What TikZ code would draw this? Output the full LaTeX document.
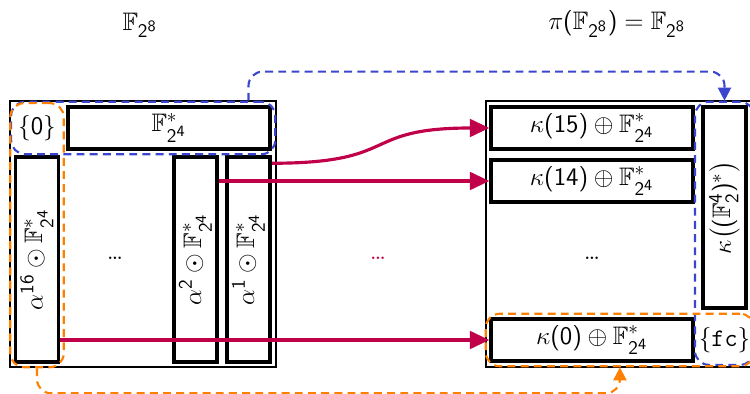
\documentclass[tikz,border=0pt]{standalone}
\usepackage{amsfonts,amssymb}
\usepackage{amsmath}
\usepackage{graphicx}
\usepackage{tikz}
\usetikzlibrary{arrows.meta,positioning,calc,fit}
\SetSymbolFont{operators}{normal}{OT1}{cmss}{m}{n}
\DeclareMathSizes{14.4}{14.4}{11}{9}
\definecolor{maproute}{RGB}{192,0,72}
\definecolor{groupblue}{RGB}{58,70,205}
\definecolor{grouporange}{RGB}{255,128,0}
\tikzset{
  >=Stealth,
  every node/.append style={font=\Large},
}
\tikzset{
  cell/.style={draw, line width=2pt, minimum width=4.04cm, minimum height=0.84cm, inner sep=0pt},
  column/.style={draw, line width=2pt, minimum width=0.86cm, minimum height=4.1cm, inner sep=0pt},
  corner/.style={minimum width=0.88cm, minimum height=0.84cm, inner sep=0pt},
  field/.style={draw, line width=1.2pt, minimum width=5.32cm, minimum height=5.32cm},
  group/.style={draw, line width=1.2pt, dash pattern=on 4.5pt off 3pt, rounded corners=8pt, inner sep=2pt},
  map/.style={-{Triangle[length=11pt,width=10pt]}, maproute, line width=1.8pt},
  link/.style={line width=1.2pt, dash pattern=on 4.5pt off 3pt, rounded corners=8pt, -{Triangle[length=7.5pt,width=7.5pt]}}
}
\begin{document}
\begin{tikzpicture}[x=0.02cm, y=-0.02cm]
\useasboundingbox (0,0) rectangle (750,394);
% titles
\node (srcname) at (140,25) {$\mathbb{F}_{2^8}$};
\node (dstname) at (617,24) {$\pi(\mathbb{F}_{2^8}) = \mathbb{F}_{2^8}$};

% source field
\node[field] (src) at (143,234) {};
\node[corner] (zero) at (37,128) {$\{0\}$};
\node[cell] (fstar) at (169,128) {$\mathbb{F}^*_{2^4}$};
\node[column] (a16) at (37,259.5) {\rotatebox{90}{$\alpha^{16}\odot\mathbb{F}^*_{2^4}$}};
\node[column] (a2) at (195.5,259.5) {\rotatebox{90}{$\alpha^{2}\odot\mathbb{F}^*_{2^4}$}};
\node[column] (a1) at (248.5,259.5) {\rotatebox{90}{$\alpha^{1}\odot\mathbb{F}^*_{2^4}$}};
\node (srcdots) at (115,258) {\ldots};

% image field
\node[field] (dst) at (619,234) {};
\node[cell] (k15) at (592,128) {$\kappa(15)\oplus\mathbb{F}^*_{2^4}$};
\node[cell] (k14) at (592,181) {$\kappa(14)\oplus\mathbb{F}^*_{2^4}$};
\node[cell] (k0) at (592,340) {$\kappa(0)\oplus\mathbb{F}^*_{2^4}$};
\node[column, minimum height=4.02cm] (kv) at (724.5,207.5) {\rotatebox{90}{$\kappa\bigl((\mathbb{F}_2^4)^*\bigr)$}};
\node[corner, minimum width=0.86cm] (fc) at (724.5,340) {$\{\texttt{fc}\}$};
\node (dstdots) at (592,258) {\ldots};
\node[text=maproute] (mapdots) at (378,258) {\ldots};

% dashed groups
\node[group, groupblue, fit=(zero)(fstar)] (blueL) {};
\node[group, grouporange, fit=(zero)(a16)] (orangeL) {};
\node[group, groupblue, fit=(kv)(fc)] (blueR) {};
\node[group, grouporange, fit=(k0)(fc)] (orangeR) {};

% maps
\draw[map] ($(a1.north east)+(0,8)$) .. controls +(130,0) and +(-130,0) .. (k15.west);
\draw[map] (a2.east |- k14.west) -- (k14.west);
\draw[map] (a16.east |- k0.west) -- (k0.west);
\draw[link, groupblue] (a1 |- blueL.north) -- ++(0,-29) -| (blueR.north);
\draw[link, grouporange] (orangeL.south) -- ++(0,25) -| (orangeR.south);
\end{tikzpicture}
\end{document}
